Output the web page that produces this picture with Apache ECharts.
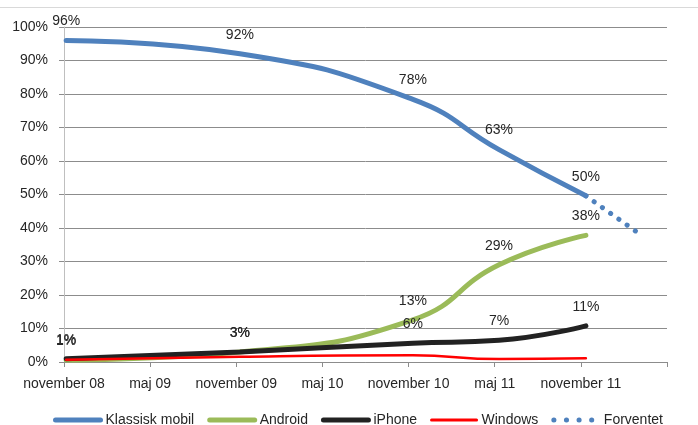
<!DOCTYPE html>
<html>
<head>
<meta charset="utf-8">
<script src="https://cdn.jsdelivr.net/npm/echarts@6/dist/echarts.min.js"></script>
<style>
html,body{margin:0;padding:0;background:#fff;}
#c{width:698px;height:425px;}
</style>
</head>
<body>
<div id="c"></div>
<script>
// months since november 08
const xMonths = [0.15, 12.25, 24.3, 30.3, 36.35];
const tickLabels = ['november 08', 'maj 09', 'november 09', 'maj 10', 'november 10', 'maj 11', 'november 11'];
const klassisk = [96, 92, 78.4, 63.4, 49.6];
const android = [0.6, 3.0, 12.6, 29, 37.8];
const iphone = [1.0, 3.0, 5.6, 6.5, 10.8];
const windows = [0.7, 1.6, 2.0, 0.9, 1.1];
const forventetX = [36.35, 40];
const forventet = [49.6, 38.5];

const FONT = 'Liberation Sans, Arial, sans-serif';
const TXT = '#262626';

function pairs(xs, ys) { return xs.map((x, i) => [x, ys[i]]); }

function lineSeries(name, vals, color, width, showLabels) {
  return {
    name: name,
    type: 'line',
    data: pairs(xMonths, vals),
    smooth: 0.5,
    symbol: 'circle',
    symbolSize: 0,
    showSymbol: true,
    itemStyle: { color: 'transparent' },
    lineStyle: { color: color, width: width, cap: 'round', join: 'round' },
    label: {
      show: showLabels,
      position: 'top',
      distance: 12,
      color: TXT,
      fontFamily: FONT,
      fontSize: 14,
      formatter: p => Math.round(p.value[1]) + '%'
    },
    emphasis: { disabled: true },
    z: 3
  };
}

const chart = echarts.init(document.getElementById('c'), null, { renderer: 'canvas' });
chart.setOption({
  animation: false,
  backgroundColor: '#fff',
  textStyle: { fontFamily: FONT },
  graphic: [{
    type: 'line', shape: { x1: 0, y1: 7.5, x2: 698, y2: 7.5 },
    style: { stroke: '#d9d9d9', lineWidth: 1 }, silent: true
  }],
  grid: { left: 64, right: 31, top: 27, bottom: 63 },
  legend: {
    left: 53, top: 413, padding: 0,
    itemWidth: 45, itemHeight: 12, itemGap: 13,
    textStyle: { color: TXT, fontSize: 14, fontFamily: FONT },
    data: [
      { name: 'Klassisk mobil', lineStyle: { width: 5, color: '#4f81bd', cap: 'round' } },
      { name: 'Android', lineStyle: { width: 5, color: '#9bbb59', cap: 'round' } },
      { name: 'iPhone', lineStyle: { width: 5, color: '#222222', cap: 'round' } },
      { name: 'Windows', lineStyle: { width: 3, color: '#ff0000', cap: 'round' } },
      { name: 'Forventet', lineStyle: { width: 5, color: '#4f81bd', type: [0.1, 12.5], cap: 'round' } }
    ]
  },
  xAxis: {
    type: 'value', min: 0, max: 42, interval: 6,
    axisLine: { show: true, lineStyle: { color: '#8c8c8c', width: 1 } },
    axisTick: { show: true, length: 5, lineStyle: { color: '#8c8c8c' } },
    splitLine: { show: false },
    axisLabel: {
      color: TXT, fontSize: 14, fontFamily: FONT, margin: 15,
      formatter: v => tickLabels[Math.round(v / 6)] || ''
    }
  },
  yAxis: {
    type: 'value', min: 0, max: 100, interval: 10,
    axisLine: { show: true, lineStyle: { color: '#bfbfbf', width: 1 } },
    axisTick: { show: true, length: 5, lineStyle: { color: '#8c8c8c' } },
    splitLine: { show: true, lineStyle: { color: '#8c8c8c', width: 1 } },
    axisLabel: { color: TXT, fontSize: 14, fontFamily: FONT, margin: 16, formatter: '{value}%' }
  },
  series: [
    lineSeries('Klassisk mobil', klassisk, '#4f81bd', 5, true),
    lineSeries('Android', android, '#9bbb59', 5, true),
    lineSeries('iPhone', iphone, '#222222', 5, true),
    lineSeries('Windows', windows, '#ff0000', 2.5, false),
    {
      name: 'Forventet', type: 'line',
      data: pairs(forventetX, forventet),
      symbol: 'circle', symbolSize: 0, showSymbol: true,
      itemStyle: { color: 'transparent' },
      lineStyle: { color: '#4f81bd', width: 5, type: [0.1, 10], cap: 'round' },
      emphasis: { disabled: true },
      z: 2
    }
  ]
});
</script>
</body>
</html>
